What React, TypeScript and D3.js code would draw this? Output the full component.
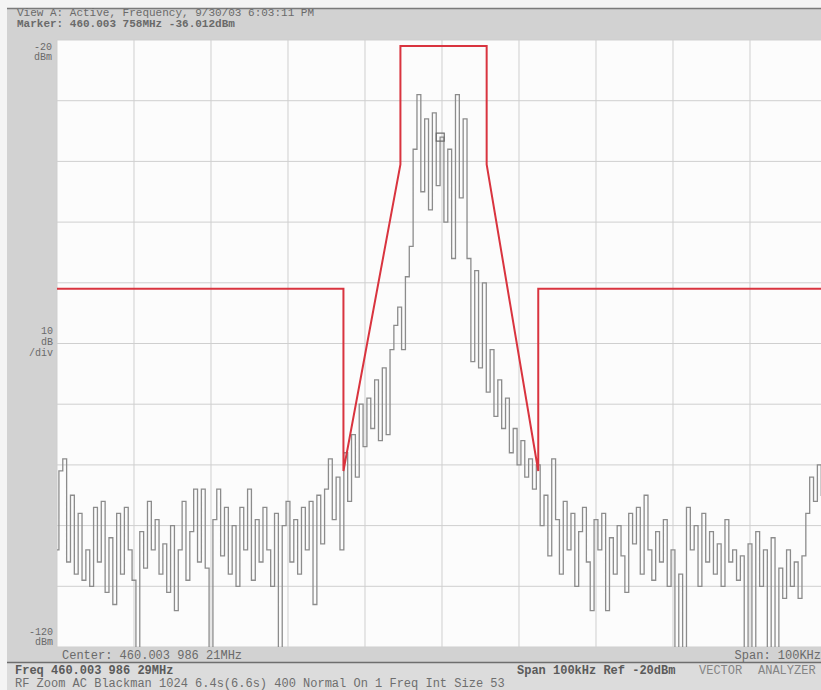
import * as d3 from "d3";

// trace: dBm every 0.5 kHz offset from centre, -50 .. +50 kHz
const traceStart = -50;
const traceStep = 0.5;
const traceValues = [
  -104, -91, -89, -106, -95, -108, -98, -109, -104, -110,
  -97, -106, -96, -111, -102, -113, -98, -108, -97, -104,
  -109, -122, -101, -107, -96, -104, -99, -108, -103, -111,
  -100, -114, -104, -96, -109, -101, -94, -106, -94, -107,
  -122, -99, -94, -105, -97, -108, -100, -110, -97, -104,
  -94, -109, -99, -106, -97, -104, -110, -98, -122, -100,
  -96, -106, -99, -108, -97, -104, -96, -113, -95, -103,
  -94, -89, -99, -92, -104, -88, -96, -85, -92, -80,
  -87, -79, -84, -76, -86, -74, -85, -71, -67, -64,
  -71, -59, -54, -38, -29, -45, -33, -48, -32, -44,
  -36, -50, -38, -56, -29, -46, -33, -56, -73, -58,
  -74, -60, -78, -71, -82, -76, -84, -79, -88, -84,
  -90, -86, -92, -89, -94, -90, -100, -95, -105, -89,
  -99, -108, -96, -104, -98, -110, -101, -97, -106, -114,
  -99, -104, -98, -114, -102, -108, -100, -105, -111, -98,
  -103, -97, -108, -95, -104, -109, -101, -106, -99, -110,
  -104, -122, -108, -123, -97, -104, -100, -110, -98, -106,
  -101, -108, -103, -110, -99, -106, -104, -109, -105, -124,
  -103, -122, -101, -110, -104, -123, -102, -121, -107, -112,
  -104, -110, -106, -112, -105, -98, -92, -96, -90, -95, -97,
];

// limit mask (kHz offset, dBm)
const maskFreq = [-50, -12.8, -12.8, -5.4, -5.4, 5.8, 5.8, 12.5, 12.5, 50];
const maskLevel = [-61, -61, -91, -40.5, -21, -21, -40.5, -91, -61, -61];

const markerFreq = -0.23;
const markerLevel = -36.0;

const headerLines = [
  "View A: Active, Frequency, 9/30/03 6:03:11 PM",
  "Marker: 460.003 758MHz  -36.012dBm",
];
const yLabelsTop = ["-20", "dBm"];
const yLabelsMid = ["10", "dB", "/div"];
const yLabelsBottom = ["-120", "dBm"];
const centerLabel = "Center: 460.003 986 21MHz";
const spanLabel = "Span: 100KHz";
const statusLeft = "Freq 460.003 986 29MHz";
const statusRight = ["Span 100kHz  Ref -20dBm", "VECTOR", "ANALYZER"];
const statusLine2 = "RF Zoom AC Blackman 1024 6.4s(6.6s) 400 Normal On 1 Freq Int Size 53";

const W = 821;
const H = 690;
const plot = { left: 57, top: 40, right: 827, bottom: 647 };
const statusRightX = [517, 699, 758];

export default function App() {
  const x = d3.scaleLinear().domain([-50, 50]).range([plot.left, plot.right]);
  const y = d3.scaleLinear().domain([-120, -20]).range([plot.bottom, plot.top]);

  const trace = traceValues.map((v, i) => [traceStart + i * traceStep, v] as [number, number]);
  const traceLine = d3
    .line<[number, number]>()
    .x((d) => x(d[0]))
    .y((d) => y(d[1]))
    .curve(d3.curveStep);
  const maskLine = d3
    .line<[number, number]>()
    .x((d) => x(d[0]))
    .y((d) => y(d[1]));

  const mask = maskFreq.map((f, i) => [f, maskLevel[i]] as [number, number]);

  const mono = "'Liberation Mono', 'DejaVu Sans Mono', monospace";
  const txt = "#6a6a6a";

  return (
    <svg
      width={W}
      height={H}
      style={{ position: "absolute", left: 0, top: 0, background: "#f4f4f4" }}
      fontFamily={mono}
    >
      <defs>
        <clipPath id="plotClip">
          <rect x={plot.left} y={plot.top} width={plot.right - plot.left} height={plot.bottom - plot.top} />
        </clipPath>
      </defs>

      {/* frame */}
      <rect x={7} y={8} width={W - 7} height={H - 8} fill="#d2d2d2" />
      <line x1={7} x2={W} y1={8.5} y2={8.5} stroke="#7a7a7a" strokeWidth={1.5} />
      <rect x={7} y={663} width={W - 7} height={H - 663} fill="#dcdcdc" />
      <line x1={7} x2={W} y1={662.5} y2={662.5} stroke="#6e6e6e" strokeWidth={1.5} />
      <rect
        x={plot.left}
        y={plot.top}
        width={plot.right - plot.left}
        height={plot.bottom - plot.top}
        fill="#fcfcfc"
      />

      {/* grid */}
      <g stroke="#cfcfcf" strokeWidth={1}>
        {x.ticks(10).map((t) => (
          <line key={"gx" + t} x1={x(t)} x2={x(t)} y1={plot.top} y2={plot.bottom} />
        ))}
        {y.ticks(10).map((t) => (
          <line key={"gy" + t} x1={plot.left} x2={plot.right} y1={y(t)} y2={y(t)} />
        ))}
      </g>

      {/* trace + mask */}
      <g clipPath="url(#plotClip)">
        <path d={traceLine(trace) ?? ""} fill="none" stroke="#8c8c8c" strokeWidth={1.3} />
        <path d={maskLine(mask) ?? ""} fill="none" stroke="#d9343f" strokeWidth={2} />
        <rect
          x={x(markerFreq) - 4}
          y={y(markerLevel) - 4}
          width={8}
          height={8}
          fill="none"
          stroke="#6a6a6a"
          strokeWidth={1.2}
        />
      </g>

      {/* header */}
      <g fill={txt} fontSize={11}>
        {headerLines.map((s, i) => (
          <text key={s} x={17} y={16 + i * 11} fontWeight={i === 1 ? "bold" : "normal"}>
            {s}
          </text>
        ))}
      </g>

      {/* y labels */}
      <g fill={txt} fontSize={10} textAnchor="end">
        {yLabelsTop.map((s, i) => (
          <text key={"t" + s} x={52} y={50 + i * 10}>
            {s}
          </text>
        ))}
        {yLabelsMid.map((s, i) => (
          <text key={"m" + s} x={53} y={334 + i * 11}>
            {s}
          </text>
        ))}
        {yLabelsBottom.map((s, i) => (
          <text key={"b" + s} x={53} y={635 + i * 10}>
            {s}
          </text>
        ))}
      </g>

      {/* bottom axis labels */}
      <g fill={txt} fontSize={12}>
        <text x={62} y={659}>
          {centerLabel}
        </text>
        <text x={821} y={659} textAnchor="end">
          {spanLabel}
        </text>
      </g>

      {/* status lines */}
      <g fill="#5a5a5a" fontSize={12}>
        <text x={15} y={674} fontWeight="bold">
          {statusLeft}
        </text>
        {statusRight.map((s, i) => (
          <text
            key={s}
            x={statusRightX[i]}
            y={674}
            fontWeight={i === 0 ? "bold" : "normal"}
            fill={i === 0 ? "#5a5a5a" : "#858585"}
          >
            {s}
          </text>
        ))}
        <text x={15} y={687} fill="#6e6e6e">
          {statusLine2}
        </text>
      </g>
    </svg>
  );
}
